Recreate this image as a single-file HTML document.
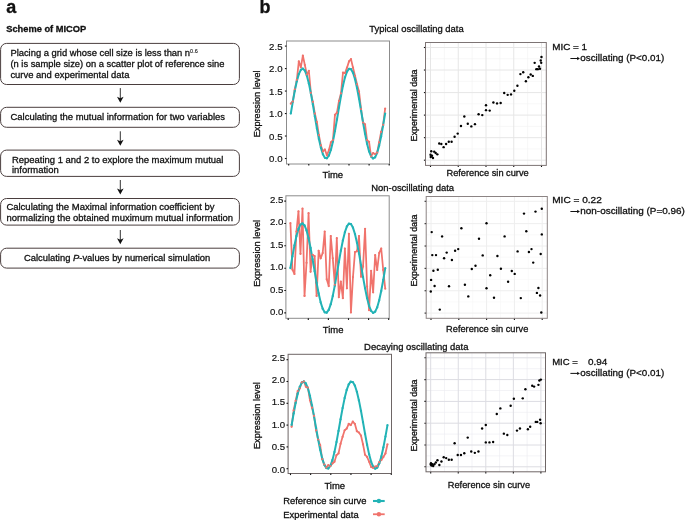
<!DOCTYPE html>
<html><head><meta charset="utf-8"><style>
html,body{margin:0;padding:0;background:#fff;}
body{width:685px;height:520px;overflow:hidden;}
svg{display:block;will-change:transform;font-family:"Liberation Sans", sans-serif;fill:#111;}
text{fill:#111;stroke:#111;stroke-width:0.3px;}
</style></head><body>
<svg width="685" height="520" viewBox="0 0 685 520">
<text x="6.3" y="12.6" font-size="18" font-weight="bold">a</text>
<text x="6.2" y="32.4" font-size="9.3" font-weight="bold">Scheme of MICOP</text>
<rect x="0.6" y="43.4" width="238.8" height="41.1" rx="6" ry="6" fill="none" stroke="#4a3e3e" stroke-width="1"/>
<rect x="0.6" y="107.3" width="238.8" height="20.0" rx="6" ry="6" fill="none" stroke="#4a3e3e" stroke-width="1"/>
<rect x="0.6" y="150.1" width="238.8" height="26.3" rx="6" ry="6" fill="none" stroke="#4a3e3e" stroke-width="1"/>
<rect x="0.6" y="198.5" width="238.8" height="26.6" rx="6" ry="6" fill="none" stroke="#4a3e3e" stroke-width="1"/>
<rect x="0.6" y="248.2" width="238.8" height="19.9" rx="6" ry="6" fill="none" stroke="#4a3e3e" stroke-width="1"/>
<line x1="120.3" y1="88.1" x2="120.3" y2="99.8" stroke="#333" stroke-width="1"/>
<path d="M117.0,96.8 L120.3,98.2 L123.6,96.8 L120.3,102.8 Z" fill="#111"/>
<line x1="120.3" y1="131.3" x2="120.3" y2="142.8" stroke="#333" stroke-width="1"/>
<path d="M117.0,139.8 L120.3,141.20000000000002 L123.6,139.8 L120.3,145.8 Z" fill="#111"/>
<line x1="120.3" y1="180.0" x2="120.3" y2="191.5" stroke="#333" stroke-width="1"/>
<path d="M117.0,188.5 L120.3,189.9 L123.6,188.5 L120.3,194.5 Z" fill="#111"/>
<line x1="120.3" y1="230.0" x2="120.3" y2="241.3" stroke="#333" stroke-width="1"/>
<path d="M117.0,238.3 L120.3,239.70000000000002 L123.6,238.3 L120.3,244.3 Z" fill="#111"/>
<text x="10.4" y="56.2" font-size="9.45" textLength="187.3" lengthAdjust="spacingAndGlyphs">Placing a grid whose cell size is less than n<tspan font-size="5.5" dy="-3.1" style="stroke-width:0.1px">0.6</tspan></text>
<text x="10.4" y="67.4" font-size="9.45" textLength="214.1" lengthAdjust="spacingAndGlyphs">(n is sample size) on a scatter plot of reference sine</text>
<text x="10.4" y="78.4" font-size="9.45">curve and experimental data</text>
<text x="10.5" y="120.1" font-size="9.45" textLength="214.5" lengthAdjust="spacingAndGlyphs">Calculating the mutual information for two variables</text>
<text x="12.0" y="162.5" font-size="9.45">Repeating 1 and 2 to explore the maximum mutual</text>
<text x="12.0" y="173.0" font-size="9.45">information</text>
<text x="6.4" y="210.2" font-size="9.45" textLength="208.1" lengthAdjust="spacingAndGlyphs">Calculating the Maximal information coefficient by</text>
<text x="6.4" y="220.7" font-size="9.45">normalizing the obtained muximum mutual information</text>
<text x="23.9" y="261.4" font-size="9.45" textLength="186.4" lengthAdjust="spacingAndGlyphs">Calculating <tspan font-style="italic">P</tspan>-values by numerical simulation</text>
<text x="259.6" y="12.6" font-size="18" font-weight="bold">b</text>
<text x="369.3" y="32.1" font-size="9.45">Typical oscillating data</text>
<text x="371.2" y="191.1" font-size="9.45">Non-oscillating data</text>
<text x="364.1" y="349.8" font-size="9.45">Decaying oscillating data</text>
<rect x="286.5" y="41.0" width="103.00" height="123.00" fill="none" stroke="#8c8c8c" stroke-width="1"/>
<line x1="284.9" y1="158.50" x2="286.5" y2="158.50" stroke="#111" stroke-width="1.1"/>
<text x="282.5" y="161.90" font-size="9.9" textLength="13.4" lengthAdjust="spacingAndGlyphs" text-anchor="end" style="stroke-width:0.18px">0.0</text>
<line x1="284.9" y1="136.02" x2="286.5" y2="136.02" stroke="#111" stroke-width="1.1"/>
<text x="282.5" y="139.50" font-size="9.9" textLength="13.4" lengthAdjust="spacingAndGlyphs" text-anchor="end" style="stroke-width:0.18px">0.5</text>
<line x1="284.9" y1="113.54" x2="286.5" y2="113.54" stroke="#111" stroke-width="1.1"/>
<text x="282.5" y="117.10" font-size="9.9" textLength="13.4" lengthAdjust="spacingAndGlyphs" text-anchor="end" style="stroke-width:0.18px">1.0</text>
<line x1="284.9" y1="91.06" x2="286.5" y2="91.06" stroke="#111" stroke-width="1.1"/>
<text x="282.5" y="94.70" font-size="9.9" textLength="13.4" lengthAdjust="spacingAndGlyphs" text-anchor="end" style="stroke-width:0.18px">1.5</text>
<line x1="284.9" y1="68.58" x2="286.5" y2="68.58" stroke="#111" stroke-width="1.1"/>
<text x="282.5" y="72.30" font-size="9.9" textLength="13.4" lengthAdjust="spacingAndGlyphs" text-anchor="end" style="stroke-width:0.18px">2.0</text>
<line x1="284.9" y1="46.10" x2="286.5" y2="46.10" stroke="#111" stroke-width="1.1"/>
<text x="282.5" y="49.90" font-size="9.9" textLength="13.4" lengthAdjust="spacingAndGlyphs" text-anchor="end" style="stroke-width:0.18px">2.5</text>
<line x1="288.70" y1="164.0" x2="288.70" y2="165.6" stroke="#111" stroke-width="1.1"/>
<line x1="308.80" y1="164.0" x2="308.80" y2="165.6" stroke="#111" stroke-width="1.1"/>
<line x1="328.90" y1="164.0" x2="328.90" y2="165.6" stroke="#111" stroke-width="1.1"/>
<line x1="349.00" y1="164.0" x2="349.00" y2="165.6" stroke="#111" stroke-width="1.1"/>
<line x1="369.10" y1="164.0" x2="369.10" y2="165.6" stroke="#111" stroke-width="1.1"/>
<line x1="389.20" y1="164.0" x2="389.20" y2="165.6" stroke="#111" stroke-width="1.1"/>
<polyline points="290.80,103.65 292.81,101.40 294.81,89.26 296.82,79.82 298.83,61.39 300.84,67.23 302.84,55.54 304.85,64.98 306.86,74.42 308.86,70.83 310.87,92.86 312.88,101.85 314.88,113.54 316.89,122.08 318.90,135.12 320.91,145.46 322.91,151.31 324.92,149.51 326.93,155.35 328.93,149.96 330.94,142.31 332.95,140.07 334.95,114.89 336.96,112.64 338.97,100.95 340.98,93.31 342.98,72.63 344.99,73.08 347.00,67.68 349.00,61.39 351.01,59.14 353.02,67.68 355.02,75.77 357.03,84.32 359.04,91.51 361.05,109.04 363.05,122.53 365.06,124.33 367.07,140.07 369.07,141.86 371.08,156.25 373.09,153.10 375.09,154.00 377.10,152.66 379.11,142.31 381.12,131.97 383.12,124.78 385.13,108.59" fill="none" stroke="#f0736c" stroke-width="1.75" stroke-linejoin="round"/>
<polyline points="290.80,113.54 292.81,101.66 294.81,90.63 296.82,81.22 298.83,74.11 300.84,69.80 302.84,68.61 304.85,70.60 306.86,75.64 308.86,83.38 310.87,93.26 312.88,104.58 314.88,116.54 316.89,128.29 318.90,138.98 320.91,147.87 322.91,154.32 324.92,157.87 326.93,158.27 328.93,155.50 330.94,149.74 332.95,141.40 334.95,131.09 336.96,119.53 338.97,107.55 340.98,95.99 342.98,85.68 344.99,77.34 347.00,71.58 349.00,68.81 351.01,69.21 353.02,72.76 355.02,79.21 357.03,88.10 359.04,98.79 361.05,110.54 363.05,122.50 365.06,133.82 367.07,143.70 369.07,151.44 371.08,156.48 373.09,158.47 375.09,157.28 377.10,152.97 379.11,145.86 381.12,136.45 383.12,125.42 385.13,113.54" fill="none" stroke="#22b3b6" stroke-width="2.0" stroke-linejoin="round"/>
<circle cx="290.80" cy="113.54" r="1.15" fill="#22b3b6"/>
<circle cx="292.81" cy="101.66" r="1.15" fill="#22b3b6"/>
<circle cx="294.81" cy="90.63" r="1.15" fill="#22b3b6"/>
<circle cx="296.82" cy="81.22" r="1.15" fill="#22b3b6"/>
<circle cx="298.83" cy="74.11" r="1.15" fill="#22b3b6"/>
<circle cx="300.84" cy="69.80" r="1.15" fill="#22b3b6"/>
<circle cx="302.84" cy="68.61" r="1.15" fill="#22b3b6"/>
<circle cx="304.85" cy="70.60" r="1.15" fill="#22b3b6"/>
<circle cx="306.86" cy="75.64" r="1.15" fill="#22b3b6"/>
<circle cx="308.86" cy="83.38" r="1.15" fill="#22b3b6"/>
<circle cx="310.87" cy="93.26" r="1.15" fill="#22b3b6"/>
<circle cx="312.88" cy="104.58" r="1.15" fill="#22b3b6"/>
<circle cx="314.88" cy="116.54" r="1.15" fill="#22b3b6"/>
<circle cx="316.89" cy="128.29" r="1.15" fill="#22b3b6"/>
<circle cx="318.90" cy="138.98" r="1.15" fill="#22b3b6"/>
<circle cx="320.91" cy="147.87" r="1.15" fill="#22b3b6"/>
<circle cx="322.91" cy="154.32" r="1.15" fill="#22b3b6"/>
<circle cx="324.92" cy="157.87" r="1.15" fill="#22b3b6"/>
<circle cx="326.93" cy="158.27" r="1.15" fill="#22b3b6"/>
<circle cx="328.93" cy="155.50" r="1.15" fill="#22b3b6"/>
<circle cx="330.94" cy="149.74" r="1.15" fill="#22b3b6"/>
<circle cx="332.95" cy="141.40" r="1.15" fill="#22b3b6"/>
<circle cx="334.95" cy="131.09" r="1.15" fill="#22b3b6"/>
<circle cx="336.96" cy="119.53" r="1.15" fill="#22b3b6"/>
<circle cx="338.97" cy="107.55" r="1.15" fill="#22b3b6"/>
<circle cx="340.98" cy="95.99" r="1.15" fill="#22b3b6"/>
<circle cx="342.98" cy="85.68" r="1.15" fill="#22b3b6"/>
<circle cx="344.99" cy="77.34" r="1.15" fill="#22b3b6"/>
<circle cx="347.00" cy="71.58" r="1.15" fill="#22b3b6"/>
<circle cx="349.00" cy="68.81" r="1.15" fill="#22b3b6"/>
<circle cx="351.01" cy="69.21" r="1.15" fill="#22b3b6"/>
<circle cx="353.02" cy="72.76" r="1.15" fill="#22b3b6"/>
<circle cx="355.02" cy="79.21" r="1.15" fill="#22b3b6"/>
<circle cx="357.03" cy="88.10" r="1.15" fill="#22b3b6"/>
<circle cx="359.04" cy="98.79" r="1.15" fill="#22b3b6"/>
<circle cx="361.05" cy="110.54" r="1.15" fill="#22b3b6"/>
<circle cx="363.05" cy="122.50" r="1.15" fill="#22b3b6"/>
<circle cx="365.06" cy="133.82" r="1.15" fill="#22b3b6"/>
<circle cx="367.07" cy="143.70" r="1.15" fill="#22b3b6"/>
<circle cx="369.07" cy="151.44" r="1.15" fill="#22b3b6"/>
<circle cx="371.08" cy="156.48" r="1.15" fill="#22b3b6"/>
<circle cx="373.09" cy="158.47" r="1.15" fill="#22b3b6"/>
<circle cx="375.09" cy="157.28" r="1.15" fill="#22b3b6"/>
<circle cx="377.10" cy="152.97" r="1.15" fill="#22b3b6"/>
<circle cx="379.11" cy="145.86" r="1.15" fill="#22b3b6"/>
<circle cx="381.12" cy="136.45" r="1.15" fill="#22b3b6"/>
<circle cx="383.12" cy="125.42" r="1.15" fill="#22b3b6"/>
<circle cx="385.13" cy="113.54" r="1.15" fill="#22b3b6"/>
<circle cx="290.80" cy="103.65" r="1.1" fill="#f0736c"/>
<circle cx="292.81" cy="101.40" r="1.1" fill="#f0736c"/>
<circle cx="294.81" cy="89.26" r="1.1" fill="#f0736c"/>
<circle cx="296.82" cy="79.82" r="1.1" fill="#f0736c"/>
<circle cx="298.83" cy="61.39" r="1.1" fill="#f0736c"/>
<circle cx="300.84" cy="67.23" r="1.1" fill="#f0736c"/>
<circle cx="302.84" cy="55.54" r="1.1" fill="#f0736c"/>
<circle cx="304.85" cy="64.98" r="1.1" fill="#f0736c"/>
<circle cx="306.86" cy="74.42" r="1.1" fill="#f0736c"/>
<circle cx="308.86" cy="70.83" r="1.1" fill="#f0736c"/>
<circle cx="310.87" cy="92.86" r="1.1" fill="#f0736c"/>
<circle cx="312.88" cy="101.85" r="1.1" fill="#f0736c"/>
<circle cx="314.88" cy="113.54" r="1.1" fill="#f0736c"/>
<circle cx="316.89" cy="122.08" r="1.1" fill="#f0736c"/>
<circle cx="318.90" cy="135.12" r="1.1" fill="#f0736c"/>
<circle cx="320.91" cy="145.46" r="1.1" fill="#f0736c"/>
<circle cx="322.91" cy="151.31" r="1.1" fill="#f0736c"/>
<circle cx="324.92" cy="149.51" r="1.1" fill="#f0736c"/>
<circle cx="326.93" cy="155.35" r="1.1" fill="#f0736c"/>
<circle cx="328.93" cy="149.96" r="1.1" fill="#f0736c"/>
<circle cx="330.94" cy="142.31" r="1.1" fill="#f0736c"/>
<circle cx="332.95" cy="140.07" r="1.1" fill="#f0736c"/>
<circle cx="334.95" cy="114.89" r="1.1" fill="#f0736c"/>
<circle cx="336.96" cy="112.64" r="1.1" fill="#f0736c"/>
<circle cx="338.97" cy="100.95" r="1.1" fill="#f0736c"/>
<circle cx="340.98" cy="93.31" r="1.1" fill="#f0736c"/>
<circle cx="342.98" cy="72.63" r="1.1" fill="#f0736c"/>
<circle cx="344.99" cy="73.08" r="1.1" fill="#f0736c"/>
<circle cx="347.00" cy="67.68" r="1.1" fill="#f0736c"/>
<circle cx="349.00" cy="61.39" r="1.1" fill="#f0736c"/>
<circle cx="351.01" cy="59.14" r="1.1" fill="#f0736c"/>
<circle cx="353.02" cy="67.68" r="1.1" fill="#f0736c"/>
<circle cx="355.02" cy="75.77" r="1.1" fill="#f0736c"/>
<circle cx="357.03" cy="84.32" r="1.1" fill="#f0736c"/>
<circle cx="359.04" cy="91.51" r="1.1" fill="#f0736c"/>
<circle cx="361.05" cy="109.04" r="1.1" fill="#f0736c"/>
<circle cx="363.05" cy="122.53" r="1.1" fill="#f0736c"/>
<circle cx="365.06" cy="124.33" r="1.1" fill="#f0736c"/>
<circle cx="367.07" cy="140.07" r="1.1" fill="#f0736c"/>
<circle cx="369.07" cy="141.86" r="1.1" fill="#f0736c"/>
<circle cx="371.08" cy="156.25" r="1.1" fill="#f0736c"/>
<circle cx="373.09" cy="153.10" r="1.1" fill="#f0736c"/>
<circle cx="375.09" cy="154.00" r="1.1" fill="#f0736c"/>
<circle cx="377.10" cy="152.66" r="1.1" fill="#f0736c"/>
<circle cx="379.11" cy="142.31" r="1.1" fill="#f0736c"/>
<circle cx="381.12" cy="131.97" r="1.1" fill="#f0736c"/>
<circle cx="383.12" cy="124.78" r="1.1" fill="#f0736c"/>
<circle cx="385.13" cy="108.59" r="1.1" fill="#f0736c"/>
<text x="322.5" y="177.5" font-size="9.45">Time</text>
<text x="0" y="0" font-size="9.2" text-anchor="middle" transform="translate(259.8 103.85) rotate(-90)">Expression level</text>
<rect x="425.5" y="42.5" width="120.80" height="122.90" fill="#fff"/>
<line x1="444.38" y1="42.5" x2="444.38" y2="165.4" stroke="#f2f2f2" stroke-width="0.6"/>
<line x1="472.12" y1="42.5" x2="472.12" y2="165.4" stroke="#f2f2f2" stroke-width="0.6"/>
<line x1="499.88" y1="42.5" x2="499.88" y2="165.4" stroke="#f2f2f2" stroke-width="0.6"/>
<line x1="527.62" y1="42.5" x2="527.62" y2="165.4" stroke="#f2f2f2" stroke-width="0.6"/>
<line x1="425.5" y1="148.93" x2="546.3" y2="148.93" stroke="#f2f2f2" stroke-width="0.6"/>
<line x1="425.5" y1="126.39" x2="546.3" y2="126.39" stroke="#f2f2f2" stroke-width="0.6"/>
<line x1="425.5" y1="103.85" x2="546.3" y2="103.85" stroke="#f2f2f2" stroke-width="0.6"/>
<line x1="425.5" y1="81.31" x2="546.3" y2="81.31" stroke="#f2f2f2" stroke-width="0.6"/>
<line x1="425.5" y1="58.77" x2="546.3" y2="58.77" stroke="#f2f2f2" stroke-width="0.6"/>
<line x1="430.50" y1="42.5" x2="430.50" y2="165.4" stroke="#e6e6e6" stroke-width="1"/>
<line x1="430.50" y1="165.4" x2="430.50" y2="167.0" stroke="#111" stroke-width="1.1"/>
<line x1="458.25" y1="42.5" x2="458.25" y2="165.4" stroke="#e6e6e6" stroke-width="1"/>
<line x1="458.25" y1="165.4" x2="458.25" y2="167.0" stroke="#111" stroke-width="1.1"/>
<line x1="486.00" y1="42.5" x2="486.00" y2="165.4" stroke="#e6e6e6" stroke-width="1"/>
<line x1="486.00" y1="165.4" x2="486.00" y2="167.0" stroke="#111" stroke-width="1.1"/>
<line x1="513.75" y1="42.5" x2="513.75" y2="165.4" stroke="#e6e6e6" stroke-width="1"/>
<line x1="513.75" y1="165.4" x2="513.75" y2="167.0" stroke="#111" stroke-width="1.1"/>
<line x1="541.50" y1="42.5" x2="541.50" y2="165.4" stroke="#e6e6e6" stroke-width="1"/>
<line x1="541.50" y1="165.4" x2="541.50" y2="167.0" stroke="#111" stroke-width="1.1"/>
<line x1="425.5" y1="160.20" x2="546.3" y2="160.20" stroke="#e6e6e6" stroke-width="1"/>
<line x1="423.9" y1="160.20" x2="425.5" y2="160.20" stroke="#111" stroke-width="1.1"/>
<line x1="425.5" y1="137.66" x2="546.3" y2="137.66" stroke="#e6e6e6" stroke-width="1"/>
<line x1="423.9" y1="137.66" x2="425.5" y2="137.66" stroke="#111" stroke-width="1.1"/>
<line x1="425.5" y1="115.12" x2="546.3" y2="115.12" stroke="#e6e6e6" stroke-width="1"/>
<line x1="423.9" y1="115.12" x2="425.5" y2="115.12" stroke="#111" stroke-width="1.1"/>
<line x1="425.5" y1="92.58" x2="546.3" y2="92.58" stroke="#e6e6e6" stroke-width="1"/>
<line x1="423.9" y1="92.58" x2="425.5" y2="92.58" stroke="#111" stroke-width="1.1"/>
<line x1="425.5" y1="70.04" x2="546.3" y2="70.04" stroke="#e6e6e6" stroke-width="1"/>
<line x1="423.9" y1="70.04" x2="425.5" y2="70.04" stroke="#111" stroke-width="1.1"/>
<line x1="425.5" y1="47.50" x2="546.3" y2="47.50" stroke="#e6e6e6" stroke-width="1"/>
<line x1="423.9" y1="47.50" x2="425.5" y2="47.50" stroke="#111" stroke-width="1.1"/>
<rect x="425.5" y="42.5" width="120.80" height="122.90" fill="none" stroke="#7d7474" stroke-width="1"/>
<circle cx="486.00" cy="105.20" r="1.2" fill="#000"/>
<circle cx="500.66" cy="102.95" r="1.2" fill="#000"/>
<circle cx="514.28" cy="90.78" r="1.2" fill="#000"/>
<circle cx="525.89" cy="81.31" r="1.2" fill="#000"/>
<circle cx="534.67" cy="62.83" r="1.2" fill="#000"/>
<circle cx="539.99" cy="68.69" r="1.2" fill="#000"/>
<circle cx="541.47" cy="56.97" r="1.2" fill="#000"/>
<circle cx="539.01" cy="66.43" r="1.2" fill="#000"/>
<circle cx="532.78" cy="75.90" r="1.2" fill="#000"/>
<circle cx="523.23" cy="72.29" r="1.2" fill="#000"/>
<circle cx="511.03" cy="94.38" r="1.2" fill="#000"/>
<circle cx="497.05" cy="103.40" r="1.2" fill="#000"/>
<circle cx="482.29" cy="115.12" r="1.2" fill="#000"/>
<circle cx="467.79" cy="123.69" r="1.2" fill="#000"/>
<circle cx="454.59" cy="136.76" r="1.2" fill="#000"/>
<circle cx="443.62" cy="147.13" r="1.2" fill="#000"/>
<circle cx="435.66" cy="152.99" r="1.2" fill="#000"/>
<circle cx="431.27" cy="151.18" r="1.2" fill="#000"/>
<circle cx="430.78" cy="157.04" r="1.2" fill="#000"/>
<circle cx="434.21" cy="151.63" r="1.2" fill="#000"/>
<circle cx="441.32" cy="143.97" r="1.2" fill="#000"/>
<circle cx="451.60" cy="141.72" r="1.2" fill="#000"/>
<circle cx="464.33" cy="116.47" r="1.2" fill="#000"/>
<circle cx="478.60" cy="114.22" r="1.2" fill="#000"/>
<circle cx="493.40" cy="102.50" r="1.2" fill="#000"/>
<circle cx="507.67" cy="94.83" r="1.2" fill="#000"/>
<circle cx="520.40" cy="74.10" r="1.2" fill="#000"/>
<circle cx="530.68" cy="74.55" r="1.2" fill="#000"/>
<circle cx="537.79" cy="69.14" r="1.2" fill="#000"/>
<circle cx="541.22" cy="62.83" r="1.2" fill="#000"/>
<circle cx="540.73" cy="60.57" r="1.2" fill="#000"/>
<circle cx="536.34" cy="69.14" r="1.2" fill="#000"/>
<circle cx="528.38" cy="77.25" r="1.2" fill="#000"/>
<circle cx="517.41" cy="85.82" r="1.2" fill="#000"/>
<circle cx="504.21" cy="93.03" r="1.2" fill="#000"/>
<circle cx="489.71" cy="110.61" r="1.2" fill="#000"/>
<circle cx="474.95" cy="124.14" r="1.2" fill="#000"/>
<circle cx="460.97" cy="125.94" r="1.2" fill="#000"/>
<circle cx="448.77" cy="141.72" r="1.2" fill="#000"/>
<circle cx="439.22" cy="143.52" r="1.2" fill="#000"/>
<circle cx="432.99" cy="157.95" r="1.2" fill="#000"/>
<circle cx="430.53" cy="154.79" r="1.2" fill="#000"/>
<circle cx="432.01" cy="155.69" r="1.2" fill="#000"/>
<circle cx="437.33" cy="154.34" r="1.2" fill="#000"/>
<circle cx="446.11" cy="143.97" r="1.2" fill="#000"/>
<circle cx="457.72" cy="133.60" r="1.2" fill="#000"/>
<circle cx="471.34" cy="126.39" r="1.2" fill="#000"/>
<circle cx="486.00" cy="110.16" r="1.2" fill="#000"/>
<text x="0" y="0" font-size="8.95" text-anchor="middle" transform="translate(416.6 105.5) rotate(-90)">Experimental data</text>
<text x="487.6" y="176.1" font-size="9.25" text-anchor="middle">Reference sin curve</text>
<text x="552.2" y="49.7" font-size="9.5" textLength="34.8" lengthAdjust="spacingAndGlyphs">MIC = 1</text>
<line x1="570.4" y1="58.5" x2="578" y2="58.5" stroke="#111" stroke-width="1"/>
<path d="M577.2,56.8 L579.9,58.5 L577.2,60.2 Z" fill="#111"/>
<text x="580.3" y="61.0" font-size="9.5" textLength="84.0" lengthAdjust="spacingAndGlyphs">oscillating (P&lt;0.01)</text>
<rect x="285.9" y="195.8" width="103.30" height="122.50" fill="none" stroke="#8c8c8c" stroke-width="1"/>
<line x1="284.29999999999995" y1="312.90" x2="285.9" y2="312.90" stroke="#111" stroke-width="1.1"/>
<text x="283.4" y="315.20" font-size="9.9" textLength="13.4" lengthAdjust="spacingAndGlyphs" text-anchor="end" style="stroke-width:0.18px">0.0</text>
<line x1="284.29999999999995" y1="290.54" x2="285.9" y2="290.54" stroke="#111" stroke-width="1.1"/>
<text x="283.4" y="292.72" font-size="9.9" textLength="13.4" lengthAdjust="spacingAndGlyphs" text-anchor="end" style="stroke-width:0.18px">0.5</text>
<line x1="284.29999999999995" y1="268.18" x2="285.9" y2="268.18" stroke="#111" stroke-width="1.1"/>
<text x="283.4" y="270.24" font-size="9.9" textLength="13.4" lengthAdjust="spacingAndGlyphs" text-anchor="end" style="stroke-width:0.18px">1.0</text>
<line x1="284.29999999999995" y1="245.82" x2="285.9" y2="245.82" stroke="#111" stroke-width="1.1"/>
<text x="283.4" y="247.76" font-size="9.9" textLength="13.4" lengthAdjust="spacingAndGlyphs" text-anchor="end" style="stroke-width:0.18px">1.5</text>
<line x1="284.29999999999995" y1="223.46" x2="285.9" y2="223.46" stroke="#111" stroke-width="1.1"/>
<text x="283.4" y="225.28" font-size="9.9" textLength="13.4" lengthAdjust="spacingAndGlyphs" text-anchor="end" style="stroke-width:0.18px">2.0</text>
<line x1="284.29999999999995" y1="201.10" x2="285.9" y2="201.10" stroke="#111" stroke-width="1.1"/>
<text x="283.4" y="202.80" font-size="9.9" textLength="13.4" lengthAdjust="spacingAndGlyphs" text-anchor="end" style="stroke-width:0.18px">2.5</text>
<line x1="288.20" y1="318.3" x2="288.20" y2="319.90000000000003" stroke="#111" stroke-width="1.1"/>
<line x1="308.30" y1="318.3" x2="308.30" y2="319.90000000000003" stroke="#111" stroke-width="1.1"/>
<line x1="328.40" y1="318.3" x2="328.40" y2="319.90000000000003" stroke="#111" stroke-width="1.1"/>
<line x1="348.50" y1="318.3" x2="348.50" y2="319.90000000000003" stroke="#111" stroke-width="1.1"/>
<line x1="368.60" y1="318.3" x2="368.60" y2="319.90000000000003" stroke="#111" stroke-width="1.1"/>
<line x1="388.70" y1="318.3" x2="388.70" y2="319.90000000000003" stroke="#111" stroke-width="1.1"/>
<polyline points="290.40,223.01 292.42,269.52 294.44,273.99 296.45,231.51 298.47,211.39 300.49,253.87 302.51,208.70 304.53,295.91 306.54,262.81 308.56,213.17 310.58,271.76 312.60,254.76 314.62,256.11 316.63,295.91 318.65,250.74 320.67,258.34 322.69,252.98 324.71,231.51 326.72,279.36 328.74,286.07 330.76,235.98 332.78,258.34 334.80,284.73 336.81,238.22 338.83,297.25 340.85,281.60 342.87,298.14 344.89,248.50 346.90,288.30 348.92,233.75 350.94,312.45 352.96,277.12 354.98,252.08 356.99,251.19 359.01,235.98 361.03,276.68 363.05,266.39 365.07,228.83 367.08,286.52 369.10,310.22 371.12,270.86 373.14,292.33 375.16,255.21 377.17,269.97 379.19,252.98 381.21,248.50 383.23,269.97 385.25,288.75" fill="none" stroke="#f0736c" stroke-width="1.75" stroke-linejoin="round"/>
<polyline points="290.40,268.18 292.42,256.37 294.44,245.39 296.45,236.03 298.47,228.96 300.49,224.68 302.51,223.48 304.53,225.47 306.54,230.49 308.56,238.18 310.58,248.01 312.60,259.27 314.62,271.17 316.63,282.85 318.65,293.49 320.67,302.33 322.69,308.75 324.71,312.28 326.72,312.68 328.74,309.91 330.76,304.18 332.78,295.90 334.80,285.64 336.81,274.14 338.83,262.22 340.85,250.72 342.87,240.46 344.89,232.18 346.90,226.45 348.92,223.68 350.94,224.08 352.96,227.61 354.98,234.03 356.99,242.87 359.01,253.51 361.03,265.19 363.05,277.09 365.07,288.35 367.08,298.18 369.10,305.87 371.12,310.89 373.14,312.88 375.16,311.68 377.17,307.40 379.19,300.33 381.21,290.97 383.23,279.99 385.25,268.18" fill="none" stroke="#22b3b6" stroke-width="2.0" stroke-linejoin="round"/>
<circle cx="290.40" cy="268.18" r="1.15" fill="#22b3b6"/>
<circle cx="292.42" cy="256.37" r="1.15" fill="#22b3b6"/>
<circle cx="294.44" cy="245.39" r="1.15" fill="#22b3b6"/>
<circle cx="296.45" cy="236.03" r="1.15" fill="#22b3b6"/>
<circle cx="298.47" cy="228.96" r="1.15" fill="#22b3b6"/>
<circle cx="300.49" cy="224.68" r="1.15" fill="#22b3b6"/>
<circle cx="302.51" cy="223.48" r="1.15" fill="#22b3b6"/>
<circle cx="304.53" cy="225.47" r="1.15" fill="#22b3b6"/>
<circle cx="306.54" cy="230.49" r="1.15" fill="#22b3b6"/>
<circle cx="308.56" cy="238.18" r="1.15" fill="#22b3b6"/>
<circle cx="310.58" cy="248.01" r="1.15" fill="#22b3b6"/>
<circle cx="312.60" cy="259.27" r="1.15" fill="#22b3b6"/>
<circle cx="314.62" cy="271.17" r="1.15" fill="#22b3b6"/>
<circle cx="316.63" cy="282.85" r="1.15" fill="#22b3b6"/>
<circle cx="318.65" cy="293.49" r="1.15" fill="#22b3b6"/>
<circle cx="320.67" cy="302.33" r="1.15" fill="#22b3b6"/>
<circle cx="322.69" cy="308.75" r="1.15" fill="#22b3b6"/>
<circle cx="324.71" cy="312.28" r="1.15" fill="#22b3b6"/>
<circle cx="326.72" cy="312.68" r="1.15" fill="#22b3b6"/>
<circle cx="328.74" cy="309.91" r="1.15" fill="#22b3b6"/>
<circle cx="330.76" cy="304.18" r="1.15" fill="#22b3b6"/>
<circle cx="332.78" cy="295.90" r="1.15" fill="#22b3b6"/>
<circle cx="334.80" cy="285.64" r="1.15" fill="#22b3b6"/>
<circle cx="336.81" cy="274.14" r="1.15" fill="#22b3b6"/>
<circle cx="338.83" cy="262.22" r="1.15" fill="#22b3b6"/>
<circle cx="340.85" cy="250.72" r="1.15" fill="#22b3b6"/>
<circle cx="342.87" cy="240.46" r="1.15" fill="#22b3b6"/>
<circle cx="344.89" cy="232.18" r="1.15" fill="#22b3b6"/>
<circle cx="346.90" cy="226.45" r="1.15" fill="#22b3b6"/>
<circle cx="348.92" cy="223.68" r="1.15" fill="#22b3b6"/>
<circle cx="350.94" cy="224.08" r="1.15" fill="#22b3b6"/>
<circle cx="352.96" cy="227.61" r="1.15" fill="#22b3b6"/>
<circle cx="354.98" cy="234.03" r="1.15" fill="#22b3b6"/>
<circle cx="356.99" cy="242.87" r="1.15" fill="#22b3b6"/>
<circle cx="359.01" cy="253.51" r="1.15" fill="#22b3b6"/>
<circle cx="361.03" cy="265.19" r="1.15" fill="#22b3b6"/>
<circle cx="363.05" cy="277.09" r="1.15" fill="#22b3b6"/>
<circle cx="365.07" cy="288.35" r="1.15" fill="#22b3b6"/>
<circle cx="367.08" cy="298.18" r="1.15" fill="#22b3b6"/>
<circle cx="369.10" cy="305.87" r="1.15" fill="#22b3b6"/>
<circle cx="371.12" cy="310.89" r="1.15" fill="#22b3b6"/>
<circle cx="373.14" cy="312.88" r="1.15" fill="#22b3b6"/>
<circle cx="375.16" cy="311.68" r="1.15" fill="#22b3b6"/>
<circle cx="377.17" cy="307.40" r="1.15" fill="#22b3b6"/>
<circle cx="379.19" cy="300.33" r="1.15" fill="#22b3b6"/>
<circle cx="381.21" cy="290.97" r="1.15" fill="#22b3b6"/>
<circle cx="383.23" cy="279.99" r="1.15" fill="#22b3b6"/>
<circle cx="385.25" cy="268.18" r="1.15" fill="#22b3b6"/>
<circle cx="290.40" cy="223.01" r="1.1" fill="#f0736c"/>
<circle cx="292.42" cy="269.52" r="1.1" fill="#f0736c"/>
<circle cx="294.44" cy="273.99" r="1.1" fill="#f0736c"/>
<circle cx="296.45" cy="231.51" r="1.1" fill="#f0736c"/>
<circle cx="298.47" cy="211.39" r="1.1" fill="#f0736c"/>
<circle cx="300.49" cy="253.87" r="1.1" fill="#f0736c"/>
<circle cx="302.51" cy="208.70" r="1.1" fill="#f0736c"/>
<circle cx="304.53" cy="295.91" r="1.1" fill="#f0736c"/>
<circle cx="306.54" cy="262.81" r="1.1" fill="#f0736c"/>
<circle cx="308.56" cy="213.17" r="1.1" fill="#f0736c"/>
<circle cx="310.58" cy="271.76" r="1.1" fill="#f0736c"/>
<circle cx="312.60" cy="254.76" r="1.1" fill="#f0736c"/>
<circle cx="314.62" cy="256.11" r="1.1" fill="#f0736c"/>
<circle cx="316.63" cy="295.91" r="1.1" fill="#f0736c"/>
<circle cx="318.65" cy="250.74" r="1.1" fill="#f0736c"/>
<circle cx="320.67" cy="258.34" r="1.1" fill="#f0736c"/>
<circle cx="322.69" cy="252.98" r="1.1" fill="#f0736c"/>
<circle cx="324.71" cy="231.51" r="1.1" fill="#f0736c"/>
<circle cx="326.72" cy="279.36" r="1.1" fill="#f0736c"/>
<circle cx="328.74" cy="286.07" r="1.1" fill="#f0736c"/>
<circle cx="330.76" cy="235.98" r="1.1" fill="#f0736c"/>
<circle cx="332.78" cy="258.34" r="1.1" fill="#f0736c"/>
<circle cx="334.80" cy="284.73" r="1.1" fill="#f0736c"/>
<circle cx="336.81" cy="238.22" r="1.1" fill="#f0736c"/>
<circle cx="338.83" cy="297.25" r="1.1" fill="#f0736c"/>
<circle cx="340.85" cy="281.60" r="1.1" fill="#f0736c"/>
<circle cx="342.87" cy="298.14" r="1.1" fill="#f0736c"/>
<circle cx="344.89" cy="248.50" r="1.1" fill="#f0736c"/>
<circle cx="346.90" cy="288.30" r="1.1" fill="#f0736c"/>
<circle cx="348.92" cy="233.75" r="1.1" fill="#f0736c"/>
<circle cx="350.94" cy="312.45" r="1.1" fill="#f0736c"/>
<circle cx="352.96" cy="277.12" r="1.1" fill="#f0736c"/>
<circle cx="354.98" cy="252.08" r="1.1" fill="#f0736c"/>
<circle cx="356.99" cy="251.19" r="1.1" fill="#f0736c"/>
<circle cx="359.01" cy="235.98" r="1.1" fill="#f0736c"/>
<circle cx="361.03" cy="276.68" r="1.1" fill="#f0736c"/>
<circle cx="363.05" cy="266.39" r="1.1" fill="#f0736c"/>
<circle cx="365.07" cy="228.83" r="1.1" fill="#f0736c"/>
<circle cx="367.08" cy="286.52" r="1.1" fill="#f0736c"/>
<circle cx="369.10" cy="310.22" r="1.1" fill="#f0736c"/>
<circle cx="371.12" cy="270.86" r="1.1" fill="#f0736c"/>
<circle cx="373.14" cy="292.33" r="1.1" fill="#f0736c"/>
<circle cx="375.16" cy="255.21" r="1.1" fill="#f0736c"/>
<circle cx="377.17" cy="269.97" r="1.1" fill="#f0736c"/>
<circle cx="379.19" cy="252.98" r="1.1" fill="#f0736c"/>
<circle cx="381.21" cy="248.50" r="1.1" fill="#f0736c"/>
<circle cx="383.23" cy="269.97" r="1.1" fill="#f0736c"/>
<circle cx="385.25" cy="288.75" r="1.1" fill="#f0736c"/>
<text x="322.8" y="332.9" font-size="9.45">Time</text>
<text x="0" y="0" font-size="9.2" text-anchor="middle" transform="translate(259.9 253.3) rotate(-90)">Expression level</text>
<rect x="426.2" y="196.5" width="121.10" height="121.80" fill="#fff"/>
<line x1="444.90" y1="196.5" x2="444.90" y2="318.3" stroke="#f6f6f6" stroke-width="0.6"/>
<line x1="472.70" y1="196.5" x2="472.70" y2="318.3" stroke="#f6f6f6" stroke-width="0.6"/>
<line x1="500.50" y1="196.5" x2="500.50" y2="318.3" stroke="#f6f6f6" stroke-width="0.6"/>
<line x1="528.30" y1="196.5" x2="528.30" y2="318.3" stroke="#f6f6f6" stroke-width="0.6"/>
<line x1="426.2" y1="301.92" x2="547.3" y2="301.92" stroke="#f6f6f6" stroke-width="0.6"/>
<line x1="426.2" y1="279.56" x2="547.3" y2="279.56" stroke="#f6f6f6" stroke-width="0.6"/>
<line x1="426.2" y1="257.20" x2="547.3" y2="257.20" stroke="#f6f6f6" stroke-width="0.6"/>
<line x1="426.2" y1="234.84" x2="547.3" y2="234.84" stroke="#f6f6f6" stroke-width="0.6"/>
<line x1="426.2" y1="212.48" x2="547.3" y2="212.48" stroke="#f6f6f6" stroke-width="0.6"/>
<line x1="431.00" y1="196.5" x2="431.00" y2="318.3" stroke="#eeeeee" stroke-width="1"/>
<line x1="431.00" y1="318.3" x2="431.00" y2="319.90000000000003" stroke="#111" stroke-width="1.1"/>
<line x1="458.80" y1="196.5" x2="458.80" y2="318.3" stroke="#eeeeee" stroke-width="1"/>
<line x1="458.80" y1="318.3" x2="458.80" y2="319.90000000000003" stroke="#111" stroke-width="1.1"/>
<line x1="486.60" y1="196.5" x2="486.60" y2="318.3" stroke="#eeeeee" stroke-width="1"/>
<line x1="486.60" y1="318.3" x2="486.60" y2="319.90000000000003" stroke="#111" stroke-width="1.1"/>
<line x1="514.40" y1="196.5" x2="514.40" y2="318.3" stroke="#eeeeee" stroke-width="1"/>
<line x1="514.40" y1="318.3" x2="514.40" y2="319.90000000000003" stroke="#111" stroke-width="1.1"/>
<line x1="542.20" y1="196.5" x2="542.20" y2="318.3" stroke="#eeeeee" stroke-width="1"/>
<line x1="542.20" y1="318.3" x2="542.20" y2="319.90000000000003" stroke="#111" stroke-width="1.1"/>
<line x1="426.2" y1="313.10" x2="547.3" y2="313.10" stroke="#eeeeee" stroke-width="1"/>
<line x1="424.59999999999997" y1="313.10" x2="426.2" y2="313.10" stroke="#111" stroke-width="1.1"/>
<line x1="426.2" y1="290.74" x2="547.3" y2="290.74" stroke="#eeeeee" stroke-width="1"/>
<line x1="424.59999999999997" y1="290.74" x2="426.2" y2="290.74" stroke="#111" stroke-width="1.1"/>
<line x1="426.2" y1="268.38" x2="547.3" y2="268.38" stroke="#eeeeee" stroke-width="1"/>
<line x1="424.59999999999997" y1="268.38" x2="426.2" y2="268.38" stroke="#111" stroke-width="1.1"/>
<line x1="426.2" y1="246.02" x2="547.3" y2="246.02" stroke="#eeeeee" stroke-width="1"/>
<line x1="424.59999999999997" y1="246.02" x2="426.2" y2="246.02" stroke="#111" stroke-width="1.1"/>
<line x1="426.2" y1="223.66" x2="547.3" y2="223.66" stroke="#eeeeee" stroke-width="1"/>
<line x1="424.59999999999997" y1="223.66" x2="426.2" y2="223.66" stroke="#111" stroke-width="1.1"/>
<line x1="426.2" y1="201.30" x2="547.3" y2="201.30" stroke="#eeeeee" stroke-width="1"/>
<line x1="424.59999999999997" y1="201.30" x2="426.2" y2="201.30" stroke="#111" stroke-width="1.1"/>
<rect x="426.2" y="196.5" width="121.10" height="121.80" fill="none" stroke="#8c8484" stroke-width="1"/>
<circle cx="541.80" cy="208.70" r="1.2" fill="#000"/>
<circle cx="535.50" cy="211.60" r="1.2" fill="#000"/>
<circle cx="524.00" cy="213.60" r="1.2" fill="#000"/>
<circle cx="486.50" cy="223.20" r="1.2" fill="#000"/>
<circle cx="461.40" cy="228.30" r="1.2" fill="#000"/>
<circle cx="431.70" cy="232.10" r="1.2" fill="#000"/>
<circle cx="526.30" cy="231.20" r="1.2" fill="#000"/>
<circle cx="541.80" cy="234.40" r="1.2" fill="#000"/>
<circle cx="442.10" cy="236.40" r="1.2" fill="#000"/>
<circle cx="504.60" cy="236.40" r="1.2" fill="#000"/>
<circle cx="479.00" cy="238.70" r="1.2" fill="#000"/>
<circle cx="458.20" cy="249.10" r="1.2" fill="#000"/>
<circle cx="455.10" cy="250.80" r="1.2" fill="#000"/>
<circle cx="446.70" cy="252.60" r="1.2" fill="#000"/>
<circle cx="517.60" cy="251.40" r="1.2" fill="#000"/>
<circle cx="528.90" cy="252.00" r="1.2" fill="#000"/>
<circle cx="531.50" cy="249.10" r="1.2" fill="#000"/>
<circle cx="432.30" cy="255.10" r="1.2" fill="#000"/>
<circle cx="436.00" cy="255.10" r="1.2" fill="#000"/>
<circle cx="482.70" cy="255.40" r="1.2" fill="#000"/>
<circle cx="497.40" cy="256.00" r="1.2" fill="#000"/>
<circle cx="540.70" cy="254.00" r="1.2" fill="#000"/>
<circle cx="444.10" cy="258.30" r="1.2" fill="#000"/>
<circle cx="451.90" cy="260.00" r="1.2" fill="#000"/>
<circle cx="533.20" cy="262.60" r="1.2" fill="#000"/>
<circle cx="475.50" cy="265.80" r="1.2" fill="#000"/>
<circle cx="471.80" cy="269.00" r="1.2" fill="#000"/>
<circle cx="500.90" cy="268.70" r="1.2" fill="#000"/>
<circle cx="433.40" cy="270.70" r="1.2" fill="#000"/>
<circle cx="437.80" cy="269.80" r="1.2" fill="#000"/>
<circle cx="511.80" cy="271.00" r="1.2" fill="#000"/>
<circle cx="514.70" cy="273.90" r="1.2" fill="#000"/>
<circle cx="490.20" cy="275.30" r="1.2" fill="#000"/>
<circle cx="431.10" cy="279.90" r="1.2" fill="#000"/>
<circle cx="508.10" cy="281.70" r="1.2" fill="#000"/>
<circle cx="434.60" cy="286.00" r="1.2" fill="#000"/>
<circle cx="449.00" cy="286.30" r="1.2" fill="#000"/>
<circle cx="464.90" cy="284.80" r="1.2" fill="#000"/>
<circle cx="486.50" cy="288.30" r="1.2" fill="#000"/>
<circle cx="538.40" cy="288.00" r="1.2" fill="#000"/>
<circle cx="430.80" cy="291.50" r="1.2" fill="#000"/>
<circle cx="536.90" cy="292.90" r="1.2" fill="#000"/>
<circle cx="540.10" cy="295.50" r="1.2" fill="#000"/>
<circle cx="468.30" cy="296.40" r="1.2" fill="#000"/>
<circle cx="494.00" cy="297.80" r="1.2" fill="#000"/>
<circle cx="520.80" cy="298.10" r="1.2" fill="#000"/>
<circle cx="439.80" cy="309.60" r="1.2" fill="#000"/>
<circle cx="541.30" cy="312.50" r="1.2" fill="#000"/>
<text x="0" y="0" font-size="8.95" text-anchor="middle" transform="translate(416.5 250.5) rotate(-90)">Experimental data</text>
<text x="487.2" y="331.8" font-size="9.25" text-anchor="middle">Reference sin curve</text>
<text x="552.2" y="203.2" font-size="9.5" textLength="49.6" lengthAdjust="spacingAndGlyphs">MIC = 0.22</text>
<line x1="570.4" y1="211.5" x2="578" y2="211.5" stroke="#111" stroke-width="1"/>
<path d="M577.2,209.8 L579.9,211.5 L577.2,213.2 Z" fill="#111"/>
<text x="580.3" y="214.0" font-size="9.5" textLength="104.6" lengthAdjust="spacingAndGlyphs">non-oscillating (P=0.96)</text>
<rect x="288.1" y="354.3" width="103.40" height="119.20" fill="none" stroke="#6e6666" stroke-width="1"/>
<line x1="286.5" y1="468.70" x2="288.1" y2="468.70" stroke="#111" stroke-width="1.1"/>
<text x="285.1" y="472.70" font-size="9.9" textLength="13.4" lengthAdjust="spacingAndGlyphs" text-anchor="end" style="stroke-width:0.18px">0.0</text>
<line x1="286.5" y1="446.90" x2="288.1" y2="446.90" stroke="#111" stroke-width="1.1"/>
<text x="285.1" y="450.26" font-size="9.9" textLength="13.4" lengthAdjust="spacingAndGlyphs" text-anchor="end" style="stroke-width:0.18px">0.5</text>
<line x1="286.5" y1="425.10" x2="288.1" y2="425.10" stroke="#111" stroke-width="1.1"/>
<text x="285.1" y="427.82" font-size="9.9" textLength="13.4" lengthAdjust="spacingAndGlyphs" text-anchor="end" style="stroke-width:0.18px">1.0</text>
<line x1="286.5" y1="403.30" x2="288.1" y2="403.30" stroke="#111" stroke-width="1.1"/>
<text x="285.1" y="405.38" font-size="9.9" textLength="13.4" lengthAdjust="spacingAndGlyphs" text-anchor="end" style="stroke-width:0.18px">1.5</text>
<line x1="286.5" y1="381.50" x2="288.1" y2="381.50" stroke="#111" stroke-width="1.1"/>
<text x="285.1" y="382.94" font-size="9.9" textLength="13.4" lengthAdjust="spacingAndGlyphs" text-anchor="end" style="stroke-width:0.18px">2.0</text>
<line x1="286.5" y1="359.70" x2="288.1" y2="359.70" stroke="#111" stroke-width="1.1"/>
<text x="285.1" y="360.50" font-size="9.9" textLength="13.4" lengthAdjust="spacingAndGlyphs" text-anchor="end" style="stroke-width:0.18px">2.5</text>
<line x1="290.50" y1="473.5" x2="290.50" y2="475.1" stroke="#111" stroke-width="1.1"/>
<line x1="310.65" y1="473.5" x2="310.65" y2="475.1" stroke="#111" stroke-width="1.1"/>
<line x1="330.80" y1="473.5" x2="330.80" y2="475.1" stroke="#111" stroke-width="1.1"/>
<line x1="350.95" y1="473.5" x2="350.95" y2="475.1" stroke="#111" stroke-width="1.1"/>
<line x1="371.10" y1="473.5" x2="371.10" y2="475.1" stroke="#111" stroke-width="1.1"/>
<line x1="391.25" y1="473.5" x2="391.25" y2="475.1" stroke="#111" stroke-width="1.1"/>
<polyline points="291.60,426.84 293.64,410.28 295.68,400.68 297.72,391.09 299.76,388.48 301.80,382.37 303.84,381.50 305.88,386.73 307.92,387.60 309.96,400.25 312.00,407.66 314.04,415.94 316.08,430.33 318.12,439.49 320.16,445.16 322.20,459.11 324.24,464.34 326.28,467.39 328.32,465.21 330.36,466.08 332.40,463.47 334.44,461.72 336.48,455.18 338.52,453.44 340.56,443.85 342.60,436.87 344.64,430.33 346.68,428.59 348.72,423.79 350.76,425.10 352.80,421.61 354.84,423.79 356.88,431.20 358.92,432.51 360.96,435.56 363.00,444.28 365.04,454.75 367.08,456.93 369.12,461.72 371.16,466.96 373.20,467.83 375.24,466.52 377.28,466.08 379.32,462.16 381.36,459.98 383.40,456.93 385.44,453.44 387.48,444.28" fill="none" stroke="#f0736c" stroke-width="1.75" stroke-linejoin="round"/>
<polyline points="291.60,425.10 293.64,413.58 295.68,402.88 297.72,393.76 299.76,386.86 301.80,382.69 303.84,381.52 305.88,383.46 307.92,388.35 309.96,395.85 312.00,405.44 314.04,416.42 316.08,428.01 318.12,439.40 320.16,449.78 322.20,458.40 324.24,464.65 326.28,468.09 328.32,468.48 330.36,465.79 332.40,460.20 334.44,452.12 336.48,442.12 338.52,430.91 340.56,419.29 342.60,408.08 344.64,398.08 346.68,390.00 348.72,384.41 350.76,381.72 352.80,382.11 354.84,385.55 356.88,391.80 358.92,400.42 360.96,410.80 363.00,422.19 365.04,433.78 367.08,444.76 369.12,454.35 371.16,461.85 373.20,466.74 375.24,468.68 377.28,467.51 379.32,463.34 381.36,456.44 383.40,447.32 385.44,436.62 387.48,425.10" fill="none" stroke="#22b3b6" stroke-width="2.0" stroke-linejoin="round"/>
<circle cx="291.60" cy="425.10" r="1.15" fill="#22b3b6"/>
<circle cx="293.64" cy="413.58" r="1.15" fill="#22b3b6"/>
<circle cx="295.68" cy="402.88" r="1.15" fill="#22b3b6"/>
<circle cx="297.72" cy="393.76" r="1.15" fill="#22b3b6"/>
<circle cx="299.76" cy="386.86" r="1.15" fill="#22b3b6"/>
<circle cx="301.80" cy="382.69" r="1.15" fill="#22b3b6"/>
<circle cx="303.84" cy="381.52" r="1.15" fill="#22b3b6"/>
<circle cx="305.88" cy="383.46" r="1.15" fill="#22b3b6"/>
<circle cx="307.92" cy="388.35" r="1.15" fill="#22b3b6"/>
<circle cx="309.96" cy="395.85" r="1.15" fill="#22b3b6"/>
<circle cx="312.00" cy="405.44" r="1.15" fill="#22b3b6"/>
<circle cx="314.04" cy="416.42" r="1.15" fill="#22b3b6"/>
<circle cx="316.08" cy="428.01" r="1.15" fill="#22b3b6"/>
<circle cx="318.12" cy="439.40" r="1.15" fill="#22b3b6"/>
<circle cx="320.16" cy="449.78" r="1.15" fill="#22b3b6"/>
<circle cx="322.20" cy="458.40" r="1.15" fill="#22b3b6"/>
<circle cx="324.24" cy="464.65" r="1.15" fill="#22b3b6"/>
<circle cx="326.28" cy="468.09" r="1.15" fill="#22b3b6"/>
<circle cx="328.32" cy="468.48" r="1.15" fill="#22b3b6"/>
<circle cx="330.36" cy="465.79" r="1.15" fill="#22b3b6"/>
<circle cx="332.40" cy="460.20" r="1.15" fill="#22b3b6"/>
<circle cx="334.44" cy="452.12" r="1.15" fill="#22b3b6"/>
<circle cx="336.48" cy="442.12" r="1.15" fill="#22b3b6"/>
<circle cx="338.52" cy="430.91" r="1.15" fill="#22b3b6"/>
<circle cx="340.56" cy="419.29" r="1.15" fill="#22b3b6"/>
<circle cx="342.60" cy="408.08" r="1.15" fill="#22b3b6"/>
<circle cx="344.64" cy="398.08" r="1.15" fill="#22b3b6"/>
<circle cx="346.68" cy="390.00" r="1.15" fill="#22b3b6"/>
<circle cx="348.72" cy="384.41" r="1.15" fill="#22b3b6"/>
<circle cx="350.76" cy="381.72" r="1.15" fill="#22b3b6"/>
<circle cx="352.80" cy="382.11" r="1.15" fill="#22b3b6"/>
<circle cx="354.84" cy="385.55" r="1.15" fill="#22b3b6"/>
<circle cx="356.88" cy="391.80" r="1.15" fill="#22b3b6"/>
<circle cx="358.92" cy="400.42" r="1.15" fill="#22b3b6"/>
<circle cx="360.96" cy="410.80" r="1.15" fill="#22b3b6"/>
<circle cx="363.00" cy="422.19" r="1.15" fill="#22b3b6"/>
<circle cx="365.04" cy="433.78" r="1.15" fill="#22b3b6"/>
<circle cx="367.08" cy="444.76" r="1.15" fill="#22b3b6"/>
<circle cx="369.12" cy="454.35" r="1.15" fill="#22b3b6"/>
<circle cx="371.16" cy="461.85" r="1.15" fill="#22b3b6"/>
<circle cx="373.20" cy="466.74" r="1.15" fill="#22b3b6"/>
<circle cx="375.24" cy="468.68" r="1.15" fill="#22b3b6"/>
<circle cx="377.28" cy="467.51" r="1.15" fill="#22b3b6"/>
<circle cx="379.32" cy="463.34" r="1.15" fill="#22b3b6"/>
<circle cx="381.36" cy="456.44" r="1.15" fill="#22b3b6"/>
<circle cx="383.40" cy="447.32" r="1.15" fill="#22b3b6"/>
<circle cx="385.44" cy="436.62" r="1.15" fill="#22b3b6"/>
<circle cx="387.48" cy="425.10" r="1.15" fill="#22b3b6"/>
<circle cx="291.60" cy="426.84" r="1.1" fill="#f0736c"/>
<circle cx="293.64" cy="410.28" r="1.1" fill="#f0736c"/>
<circle cx="295.68" cy="400.68" r="1.1" fill="#f0736c"/>
<circle cx="297.72" cy="391.09" r="1.1" fill="#f0736c"/>
<circle cx="299.76" cy="388.48" r="1.1" fill="#f0736c"/>
<circle cx="301.80" cy="382.37" r="1.1" fill="#f0736c"/>
<circle cx="303.84" cy="381.50" r="1.1" fill="#f0736c"/>
<circle cx="305.88" cy="386.73" r="1.1" fill="#f0736c"/>
<circle cx="307.92" cy="387.60" r="1.1" fill="#f0736c"/>
<circle cx="309.96" cy="400.25" r="1.1" fill="#f0736c"/>
<circle cx="312.00" cy="407.66" r="1.1" fill="#f0736c"/>
<circle cx="314.04" cy="415.94" r="1.1" fill="#f0736c"/>
<circle cx="316.08" cy="430.33" r="1.1" fill="#f0736c"/>
<circle cx="318.12" cy="439.49" r="1.1" fill="#f0736c"/>
<circle cx="320.16" cy="445.16" r="1.1" fill="#f0736c"/>
<circle cx="322.20" cy="459.11" r="1.1" fill="#f0736c"/>
<circle cx="324.24" cy="464.34" r="1.1" fill="#f0736c"/>
<circle cx="326.28" cy="467.39" r="1.1" fill="#f0736c"/>
<circle cx="328.32" cy="465.21" r="1.1" fill="#f0736c"/>
<circle cx="330.36" cy="466.08" r="1.1" fill="#f0736c"/>
<circle cx="332.40" cy="463.47" r="1.1" fill="#f0736c"/>
<circle cx="334.44" cy="461.72" r="1.1" fill="#f0736c"/>
<circle cx="336.48" cy="455.18" r="1.1" fill="#f0736c"/>
<circle cx="338.52" cy="453.44" r="1.1" fill="#f0736c"/>
<circle cx="340.56" cy="443.85" r="1.1" fill="#f0736c"/>
<circle cx="342.60" cy="436.87" r="1.1" fill="#f0736c"/>
<circle cx="344.64" cy="430.33" r="1.1" fill="#f0736c"/>
<circle cx="346.68" cy="428.59" r="1.1" fill="#f0736c"/>
<circle cx="348.72" cy="423.79" r="1.1" fill="#f0736c"/>
<circle cx="350.76" cy="425.10" r="1.1" fill="#f0736c"/>
<circle cx="352.80" cy="421.61" r="1.1" fill="#f0736c"/>
<circle cx="354.84" cy="423.79" r="1.1" fill="#f0736c"/>
<circle cx="356.88" cy="431.20" r="1.1" fill="#f0736c"/>
<circle cx="358.92" cy="432.51" r="1.1" fill="#f0736c"/>
<circle cx="360.96" cy="435.56" r="1.1" fill="#f0736c"/>
<circle cx="363.00" cy="444.28" r="1.1" fill="#f0736c"/>
<circle cx="365.04" cy="454.75" r="1.1" fill="#f0736c"/>
<circle cx="367.08" cy="456.93" r="1.1" fill="#f0736c"/>
<circle cx="369.12" cy="461.72" r="1.1" fill="#f0736c"/>
<circle cx="371.16" cy="466.96" r="1.1" fill="#f0736c"/>
<circle cx="373.20" cy="467.83" r="1.1" fill="#f0736c"/>
<circle cx="375.24" cy="466.52" r="1.1" fill="#f0736c"/>
<circle cx="377.28" cy="466.08" r="1.1" fill="#f0736c"/>
<circle cx="379.32" cy="462.16" r="1.1" fill="#f0736c"/>
<circle cx="381.36" cy="459.98" r="1.1" fill="#f0736c"/>
<circle cx="383.40" cy="456.93" r="1.1" fill="#f0736c"/>
<circle cx="385.44" cy="453.44" r="1.1" fill="#f0736c"/>
<circle cx="387.48" cy="444.28" r="1.1" fill="#f0736c"/>
<text x="324.4" y="488.7" font-size="9.45">Time</text>
<text x="0" y="0" font-size="9.2" text-anchor="middle" transform="translate(259.6 415.6) rotate(-90)">Expression level</text>
<rect x="426.0" y="352.8" width="119.50" height="119.00" fill="#fff"/>
<line x1="444.47" y1="352.8" x2="444.47" y2="471.8" stroke="#ebebf0" stroke-width="0.6"/>
<line x1="472.02" y1="352.8" x2="472.02" y2="471.8" stroke="#ebebf0" stroke-width="0.6"/>
<line x1="499.57" y1="352.8" x2="499.57" y2="471.8" stroke="#ebebf0" stroke-width="0.6"/>
<line x1="527.12" y1="352.8" x2="527.12" y2="471.8" stroke="#ebebf0" stroke-width="0.6"/>
<line x1="426.0" y1="455.90" x2="545.5" y2="455.90" stroke="#ebebf0" stroke-width="0.6"/>
<line x1="426.0" y1="434.10" x2="545.5" y2="434.10" stroke="#ebebf0" stroke-width="0.6"/>
<line x1="426.0" y1="412.30" x2="545.5" y2="412.30" stroke="#ebebf0" stroke-width="0.6"/>
<line x1="426.0" y1="390.50" x2="545.5" y2="390.50" stroke="#ebebf0" stroke-width="0.6"/>
<line x1="426.0" y1="368.70" x2="545.5" y2="368.70" stroke="#ebebf0" stroke-width="0.6"/>
<line x1="430.70" y1="352.8" x2="430.70" y2="471.8" stroke="#dcdce2" stroke-width="1"/>
<line x1="430.70" y1="471.8" x2="430.70" y2="473.40000000000003" stroke="#111" stroke-width="1.1"/>
<line x1="458.25" y1="352.8" x2="458.25" y2="471.8" stroke="#dcdce2" stroke-width="1"/>
<line x1="458.25" y1="471.8" x2="458.25" y2="473.40000000000003" stroke="#111" stroke-width="1.1"/>
<line x1="485.80" y1="352.8" x2="485.80" y2="471.8" stroke="#dcdce2" stroke-width="1"/>
<line x1="485.80" y1="471.8" x2="485.80" y2="473.40000000000003" stroke="#111" stroke-width="1.1"/>
<line x1="513.35" y1="352.8" x2="513.35" y2="471.8" stroke="#dcdce2" stroke-width="1"/>
<line x1="513.35" y1="471.8" x2="513.35" y2="473.40000000000003" stroke="#111" stroke-width="1.1"/>
<line x1="540.90" y1="352.8" x2="540.90" y2="471.8" stroke="#dcdce2" stroke-width="1"/>
<line x1="540.90" y1="471.8" x2="540.90" y2="473.40000000000003" stroke="#111" stroke-width="1.1"/>
<line x1="426.0" y1="466.80" x2="545.5" y2="466.80" stroke="#dcdce2" stroke-width="1"/>
<line x1="424.4" y1="466.80" x2="426.0" y2="466.80" stroke="#111" stroke-width="1.1"/>
<line x1="426.0" y1="445.00" x2="545.5" y2="445.00" stroke="#dcdce2" stroke-width="1"/>
<line x1="424.4" y1="445.00" x2="426.0" y2="445.00" stroke="#111" stroke-width="1.1"/>
<line x1="426.0" y1="423.20" x2="545.5" y2="423.20" stroke="#dcdce2" stroke-width="1"/>
<line x1="424.4" y1="423.20" x2="426.0" y2="423.20" stroke="#111" stroke-width="1.1"/>
<line x1="426.0" y1="401.40" x2="545.5" y2="401.40" stroke="#dcdce2" stroke-width="1"/>
<line x1="424.4" y1="401.40" x2="426.0" y2="401.40" stroke="#111" stroke-width="1.1"/>
<line x1="426.0" y1="379.60" x2="545.5" y2="379.60" stroke="#dcdce2" stroke-width="1"/>
<line x1="424.4" y1="379.60" x2="426.0" y2="379.60" stroke="#111" stroke-width="1.1"/>
<line x1="426.0" y1="357.80" x2="545.5" y2="357.80" stroke="#dcdce2" stroke-width="1"/>
<line x1="424.4" y1="357.80" x2="426.0" y2="357.80" stroke="#111" stroke-width="1.1"/>
<rect x="426.0" y="352.8" width="119.50" height="119.00" fill="none" stroke="#6e6666" stroke-width="1"/>
<circle cx="485.80" cy="424.94" r="1.2" fill="#000"/>
<circle cx="500.36" cy="408.38" r="1.2" fill="#000"/>
<circle cx="513.88" cy="398.78" r="1.2" fill="#000"/>
<circle cx="525.41" cy="389.19" r="1.2" fill="#000"/>
<circle cx="534.12" cy="386.58" r="1.2" fill="#000"/>
<circle cx="539.40" cy="380.47" r="1.2" fill="#000"/>
<circle cx="540.87" cy="379.60" r="1.2" fill="#000"/>
<circle cx="538.43" cy="384.83" r="1.2" fill="#000"/>
<circle cx="532.24" cy="385.70" r="1.2" fill="#000"/>
<circle cx="522.76" cy="398.35" r="1.2" fill="#000"/>
<circle cx="510.65" cy="405.76" r="1.2" fill="#000"/>
<circle cx="496.78" cy="414.04" r="1.2" fill="#000"/>
<circle cx="482.12" cy="428.43" r="1.2" fill="#000"/>
<circle cx="467.73" cy="437.59" r="1.2" fill="#000"/>
<circle cx="454.62" cy="443.26" r="1.2" fill="#000"/>
<circle cx="443.72" cy="457.21" r="1.2" fill="#000"/>
<circle cx="435.82" cy="462.44" r="1.2" fill="#000"/>
<circle cx="431.47" cy="465.49" r="1.2" fill="#000"/>
<circle cx="430.98" cy="463.31" r="1.2" fill="#000"/>
<circle cx="434.38" cy="464.18" r="1.2" fill="#000"/>
<circle cx="441.44" cy="461.57" r="1.2" fill="#000"/>
<circle cx="451.65" cy="459.82" r="1.2" fill="#000"/>
<circle cx="464.29" cy="453.28" r="1.2" fill="#000"/>
<circle cx="478.46" cy="451.54" r="1.2" fill="#000"/>
<circle cx="493.14" cy="441.95" r="1.2" fill="#000"/>
<circle cx="507.31" cy="434.97" r="1.2" fill="#000"/>
<circle cx="519.95" cy="428.43" r="1.2" fill="#000"/>
<circle cx="530.16" cy="426.69" r="1.2" fill="#000"/>
<circle cx="537.22" cy="421.89" r="1.2" fill="#000"/>
<circle cx="540.62" cy="423.20" r="1.2" fill="#000"/>
<circle cx="540.13" cy="419.71" r="1.2" fill="#000"/>
<circle cx="535.78" cy="421.89" r="1.2" fill="#000"/>
<circle cx="527.88" cy="429.30" r="1.2" fill="#000"/>
<circle cx="516.98" cy="430.61" r="1.2" fill="#000"/>
<circle cx="503.87" cy="433.66" r="1.2" fill="#000"/>
<circle cx="489.48" cy="442.38" r="1.2" fill="#000"/>
<circle cx="474.82" cy="452.85" r="1.2" fill="#000"/>
<circle cx="460.95" cy="455.03" r="1.2" fill="#000"/>
<circle cx="448.84" cy="459.82" r="1.2" fill="#000"/>
<circle cx="439.36" cy="465.06" r="1.2" fill="#000"/>
<circle cx="433.17" cy="465.93" r="1.2" fill="#000"/>
<circle cx="430.73" cy="464.62" r="1.2" fill="#000"/>
<circle cx="432.20" cy="464.18" r="1.2" fill="#000"/>
<circle cx="437.48" cy="460.26" r="1.2" fill="#000"/>
<circle cx="446.19" cy="458.08" r="1.2" fill="#000"/>
<circle cx="457.72" cy="455.03" r="1.2" fill="#000"/>
<circle cx="471.24" cy="451.54" r="1.2" fill="#000"/>
<circle cx="485.80" cy="442.38" r="1.2" fill="#000"/>
<text x="0" y="0" font-size="8.95" text-anchor="middle" transform="translate(416.5 415.5) rotate(-90)">Experimental data</text>
<text x="488.9" y="487.6" font-size="9.25" text-anchor="middle">Reference sin curve</text>
<text x="552.2" y="364.8" font-size="9.5" textLength="25.6" lengthAdjust="spacingAndGlyphs">MIC =</text>
<text x="587.9" y="364.8" font-size="9.5" textLength="19.3" lengthAdjust="spacingAndGlyphs">0.94</text>
<line x1="570.4" y1="373.40000000000003" x2="578" y2="373.40000000000003" stroke="#111" stroke-width="1"/>
<path d="M577.2,371.70000000000005 L579.9,373.40000000000003 L577.2,375.1 Z" fill="#111"/>
<text x="580.3" y="375.9" font-size="9.5" textLength="84.0" lengthAdjust="spacingAndGlyphs">oscillating (P&lt;0.01)</text>
<text x="283.3" y="504.0" font-size="9.35">Reference sin curve</text>
<text x="283.3" y="517.5" font-size="9.35">Experimental data</text>
<line x1="373.0" y1="501" x2="384.7" y2="501" stroke="#22b3b6" stroke-width="2.1"/><circle cx="378.9" cy="501" r="2.2" fill="#22b3b6"/>
<line x1="373.0" y1="514.25" x2="384.7" y2="514.25" stroke="#f0736c" stroke-width="1.8"/><circle cx="378.9" cy="514.25" r="2.2" fill="#f0736c"/>
</svg>
</body></html>
